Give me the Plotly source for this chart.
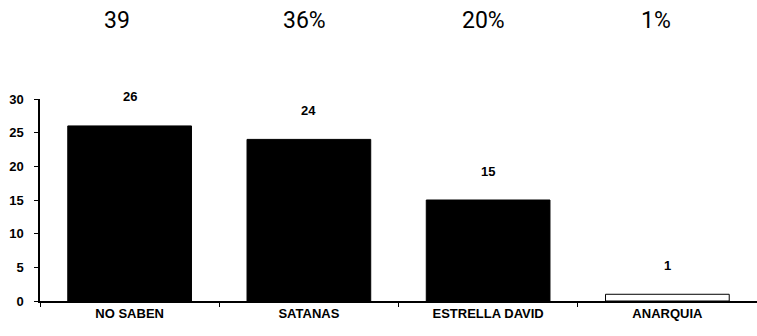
import plotly.graph_objects as go

categories = ["NO SABEN", "SATANAS", "ESTRELLA DAVID", "ANARQUIA"]
values = [26, 24, 15, 1]
top_labels = ["39", "36%", "20%", "1%"]
bar_colors = ["black", "black", "black", "white"]

fig = go.Figure()
fig.add_trace(go.Bar(
    x=categories, y=values,
    marker=dict(color=bar_colors, line=dict(color="black", width=1)),
    showlegend=False,
))

for c, v in zip(categories, values):
    fig.add_annotation(x=c, y=v, text=f"<b>{v}</b>", showarrow=False,
                       yshift=29, font=dict(family="Liberation Sans", size=13, color="black"))

for c, t in zip(categories, top_labels):
    fig.add_annotation(x=c, y=1, yref="paper", text=t, showarrow=False,
                       xanchor="left", xshift=-28, yshift=94,
                       font=dict(family="Liberation Sans Narrow, Roboto", size=23, color="black"))

fig.update_layout(
    width=757, height=336,
    margin=dict(l=40, r=0, t=99, b=35),
    plot_bgcolor="white", paper_bgcolor="white",
    bargap=0.31,
    xaxis=dict(
        showline=True, linecolor="black", linewidth=1.5,
        ticks="outside", ticklen=4, tickcolor="black", tickson="boundaries",
        tickfont=dict(family="Liberation Sans", size=13, color="black", weight="bold"),
        range=[-0.5, 3.5],
    ),
    yaxis=dict(
        range=[0, 30], tickvals=[0, 5, 10, 15, 20, 25, 30],
        showline=True, linecolor="black", linewidth=1.5,
        ticks="outside", ticklen=4, tickcolor="black",
        showgrid=False, zeroline=False, ticklabelstandoff=8,
        tickfont=dict(family="Liberation Sans", size=13, color="black", weight="bold"),
    ),
)

fig.write_html("out.html", config={"displayModeBar": False},
               post_script="document.body.style.margin='0';")
